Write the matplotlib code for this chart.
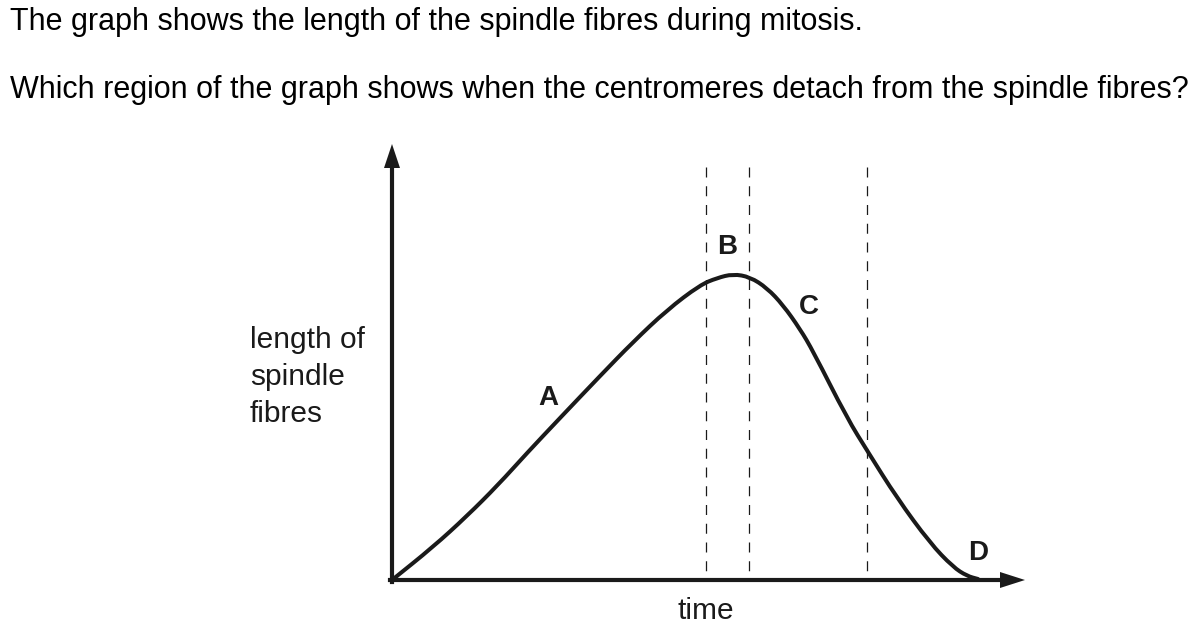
import matplotlib
matplotlib.use("Agg")
import numpy as np
from matplotlib import pyplot as plt
from matplotlib.path import Path
from matplotlib.patches import PathPatch

plt.rcParams['font.family'] = ['Liberation Sans', 'DejaVu Sans']

# spindle fibre length vs time (arbitrary units)
time = [0, 41, 75, 106, 135, 168, 208, 241, 275, 308, 325, 341, 358, 375,
        391, 408, 421, 455, 476, 505, 538, 561, 575, 586]
length = [0, 33, 64, 95, 127, 162, 204, 238, 270, 295, 302, 306, 303, 292,
          275, 251, 229, 162, 128, 82, 37, 13, 4, 1]
boundaries = [314, 357, 475]
labels = ['A', 'B', 'C', 'D']
label_x = [156, 335, 417, 586]
label_y = [182, 333, 273, 27]

W, H = 1198, 636
fig = plt.figure(figsize=(W / 100, H / 100), dpi=100)

# graph area: origin at (392, 580) px
x0, y0 = 392, 580
aw, ah = 645, 445
ax = fig.add_axes([x0 / W, (H - y0) / H, aw / W, ah / H])
ax.set_xlim(0, aw)
ax.set_ylim(0, ah)
ax.axis('off')

k = '#1a1a1a'

# smooth curve: quadratic bezier segments with the read points as control points
pts = np.column_stack([time, length]).astype(float)
verts = [pts[0]]
codes = [Path.MOVETO]
verts.append((pts[0] + pts[1]) / 2)
codes.append(Path.LINETO)
for i in range(1, len(pts) - 1):
    verts.append(pts[i])
    verts.append((pts[i] + pts[i + 1]) / 2)
    codes += [Path.CURVE3, Path.CURVE3]
verts.append(pts[-1])
codes.append(Path.LINETO)
ax.add_patch(PathPatch(Path(verts, codes), fill=False, edgecolor=k, lw=2.9,
                       capstyle='round', clip_on=False))

for b in boundaries:
    ax.plot([b, b], [413, 0], color=k, lw=0.9, dashes=(8, 7), clip_on=False)

# axes with arrowheads
ax.plot([0, 0], [-2, 412], color=k, lw=3, clip_on=False)
ax.plot([-2, 0], [0, 0], color=k, lw=3, clip_on=False)
ax.plot([0, 608], [0, 0], color=k, lw=3, clip_on=False)
ax.fill([-8, 8, 0], [412, 412, 436], color=k, clip_on=False, lw=0)
ax.fill([608, 608, 633], [8, -8, 0], color=k, clip_on=False, lw=0)

for t, lx, ly in zip(labels, label_x, label_y):
    ax.text(lx, ly, t, fontsize=20, fontweight='bold', ha='center', va='center', color=k)

ax.text(314, -31, 'time', fontsize=21.5, ha='center', va='center', color=k)
ax.text(-142, 203, 'length of\nspindle\nfibres', fontsize=21.5, ha='left', va='center',
        linespacing=1.4, color=k)

fig.text(10 / W, 1 - 22 / H, 'The graph shows the length of the spindle fibres during mitosis.',
         fontsize=22, ha='left', va='center', color='black')
fig.text(10 / W, 1 - 90 / H,
         'Which region of the graph shows when the centromeres detach from the spindle fibres?',
         fontsize=22, ha='left', va='center', color='black')

fig.savefig('out.png', dpi=100)
